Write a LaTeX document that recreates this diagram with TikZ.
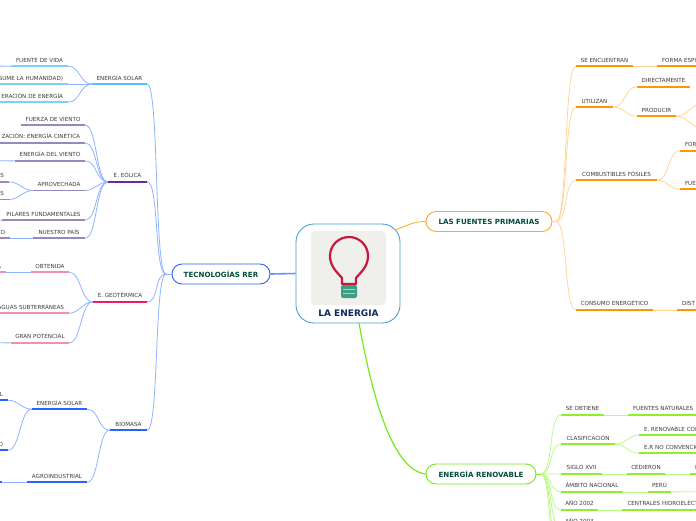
\documentclass[tikz,border=0pt]{standalone}
\usepackage{fontspec}
\setmainfont{DejaVu Sans}
\usetikzlibrary{positioning, calc}
\definecolor{txtgray}{HTML}{3C3C3C}
\definecolor{txtgreen}{HTML}{004D40}
\definecolor{txtnavy}{HTML}{0D2B5C}
\definecolor{rootline}{HTML}{4A9FD8}
\definecolor{imgback}{HTML}{EFEFEB}
\definecolor{bulbred}{HTML}{C8193C}
\definecolor{bulbteal}{HTML}{3E9E85}
\definecolor{tecblue}{HTML}{2962FF}
\definecolor{lkblue}{HTML}{8FB3FF}
\definecolor{skybar}{HTML}{4FC3F7}
\definecolor{skykid}{HTML}{81CFF5}
\definecolor{violetbar}{HTML}{6A2C91}
\definecolor{violetkid}{HTML}{9988BB}
\definecolor{pinkbar}{HTML}{E91E63}
\definecolor{pinkkid}{HTML}{F48FB1}
\definecolor{orbar}{HTML}{FF9800}
\definecolor{orline}{HTML}{FFA726}
\definecolor{lkor}{HTML}{FFD59A}
\definecolor{grbar}{HTML}{8CF02A}
\definecolor{grline}{HTML}{76E81A}
\definecolor{lkgr}{HTML}{BDF98A}

\begin{document}
\begin{tikzpicture}[x=1pt,y=-1pt,
  root/.style={rectangle,draw=rootline,fill=white,rounded corners=18pt,line width=0.9pt,minimum width=104,minimum height=99,inner sep=0pt},
  roottitle/.style={font=\fontsize{9}{10}\selectfont\bfseries,text=txtnavy,inner sep=0pt},
  mainbox/.style={rectangle,draw=#1,fill=white,rounded corners=10pt,line width=0.9pt,minimum height=20,inner sep=0pt,font=\fontsize{7.1}{8}\selectfont\bfseries,text=txtgreen},
  sub/.style={font=\fontsize{5.6}{6}\selectfont,text=txtgray,inner sep=0pt,minimum height=12,text height=4,text depth=0},
  ul/.style={sub,append after command={(\tikzlastnode.south west) edge[draw=#1,line width=1.7pt] (\tikzlastnode.south east)}},
  cutl/.style={align=right,text width=#1,inner xsep=5pt},
  cutr/.style={align=left,text width=#1,inner xsep=5pt},
  lkb/.style={draw=lkblue,line width=0.8pt},
  lko/.style={draw=lkor,line width=0.8pt},
  lkg/.style={draw=lkgr,line width=0.8pt},
  cvl/.style={out=180,in=0,max distance=12pt},
  cvr/.style={out=0,in=180,max distance=12pt}
]
  \clip (0,0) rectangle (696,520);

  \node[root](ctr) at (348,273.5) {};
  \fill[imgback,rounded corners=4pt] (311,231) rectangle (386,305);
  \draw[bulbred,line width=2.2pt,line join=round] (342,284) -- (342,278) .. controls (338,273) and (330,267) .. (330,256) .. controls (330,245) and (339,237) .. (349,237) .. controls (359,237) and (368,245) .. (368,256) .. controls (368,267) and (360,273) .. (356,278) -- (356,284) -- cycle;
  \fill[bulbteal,rounded corners=2pt] (341,285) rectangle (357,298);
  \draw[white!55!bulbteal,line width=0.7pt] (343,289.5) -- (355,289.5) (343,293) -- (355,293);
  \node[roottitle](title) at (348.5,313) {LA ENERGIA};

  \node[mainbox=tecblue,minimum width=98](tec) at (221,274) {TECNOLOGÍAS RER};
  \node[mainbox=orline,minimum width=126](fuentes) at (489,221.5) {LAS FUENTES PRIMARIAS};
  \node[mainbox=grline,minimum width=110](renov) at (481,474) {ENERGÍA RENOVABLE};

  \coordinate (ctrO) at (395,230);
  \coordinate (ctrG) at (359,323);
  \coordinate (tecJ) at (166,274);
  \coordinate (fueJ) at (556,221.5);
  \coordinate (renJ) at (541,474);

  \node[ul=skybar,minimum width=55](esolar) at (119.5,78) {ENERGÍA SOLAR};
  \node[ul=skykid,minimum width=57](fvida) at (39.5,60) {FUENTE DE VIDA};
  \node[ul=skykid,cutl=78](human) at (24,78) {SUME LA HUMANIDAD)};
  \node[ul=skykid,cutl=78](gener) at (24,96) {ERACIÓN DE ENERGÍA};

  \node[ul=violetbar,minimum width=39](eolica) at (127.5,175.7) {E. EÓLICA};
  \node[ul=violetkid,minimum width=64](fviento) at (53,119) {FUERZA DE VIENTO};
  \node[ul=violetkid,cutl=95](cinet) at (32.5,136.7) {ZACIÓN: ENERGÍA CINÉTICA};
  \node[ul=violetkid,minimum width=70](eviento) at (50,154.7) {ENERGÍA DEL VIENTO};
  \node[ul=violetkid,minimum width=52](aprov) at (59,184.3) {APROVECHADA};
  \node[ul=violetkid,cutl=19](asa) at (-5.5,175.7) {AS};
  \node[ul=violetkid,cutl=19](asb) at (-5.5,193.3) {AS};
  \node[ul=violetkid,minimum width=83](pilar) at (43.5,214) {PILARES FUNDAMENTALES};
  \node[ul=violetkid,minimum width=52](npais) at (59,232) {NUESTRO PAÍS};
  \node[ul=violetkid,cutl=20](co) at (-5,232) {CO};

  \node[ul=pinkbar,minimum width=54](geot) at (120,295.7) {E. GEOTÉRMICA};
  \node[ul=pinkkid,minimum width=38](obten) at (50,266) {OBTENIDA};
  \node[ul=pinkkid,cutl=16](oba) at (-7,266) {A};
  \node[ul=pinkkid,cutl=79](aguas) at (24.5,307) {AGUAS SUBTERRÁNEAS};
  \node[ul=pinkkid,minimum width=58](gran) at (40,336.7) {GRAN POTENCIAL};

  \node[ul=tecblue,minimum width=37](biom) at (128.5,424) {BIOMASA};
  \node[ul=tecblue,minimum width=55](esol2) at (59.5,403) {ENERGÍA SOLAR};
  \node[ul=tecblue,cutl=18](ll) at (-6,394) {L};
  \node[ul=tecblue,cutl=18](oo) at (-6,444) {O};
  \node[ul=tecblue,minimum width=60](agro) at (57,476) {AGROINDUSTRIAL};
  \node[ul=tecblue,minimum width=22](agrb) at (-9,476) {};

  \coordinate (fvidaL) at (-10,66);
  \coordinate (evienL) at (-10,160.7);
  \coordinate (pilarL) at (-10,220);
  \coordinate (granL) at (-10,342.7);

  \draw[lkb,draw=tecblue!70,line width=1.6pt](tec.east)--(ctr.west);
  \draw[lko,draw=orline](fuentes.west) to[out=180,in=20] (ctrO);
  \draw[grline,line width=1.2pt](ctrG) .. controls (372,395) and (392,470) .. (renov.west);

  \draw[lkb](tec.west)--(tecJ);
  \draw[lkb](tecJ) to[cvl] (esolar.south east);
  \draw[lkb](tecJ) to[cvl] (eolica.south east);
  \draw[lkb](tecJ) to[cvl] (geot.south east);
  \draw[lkb](tecJ) to[cvl] (biom.south east);

  \draw[lkb](esolar.south west) to[cvl] (fvida.south east);
  \draw[lkb](esolar.south west) -- (human.south east);
  \draw[lkb](esolar.south west) to[cvl] (gener.south east);
  \draw[lkb](fvida.south west) -- (fvidaL);

  \draw[lkb](eolica.south west) to[cvl] (fviento.south east);
  \draw[lkb](eolica.south west) to[cvl] (cinet.south east);
  \draw[lkb](eolica.south west) to[cvl] (eviento.south east);
  \draw[lkb](eolica.south west) to[cvl] (aprov.south east);
  \draw[lkb](eolica.south west) to[cvl] (pilar.south east);
  \draw[lkb](eolica.south west) to[cvl] (npais.south east);
  \draw[lkb](eviento.south west) -- (evienL);
  \draw[lkb](aprov.south west) to[cvl] (asa.south east);
  \draw[lkb](aprov.south west) to[cvl] (asb.south east);
  \draw[lkb](pilar.south west) -- (pilarL);
  \draw[lkb](npais.south west) -- (co.south east);

  \draw[lkb](geot.south west) to[cvl] (obten.south east);
  \draw[lkb](geot.south west) to[cvl] (aguas.south east);
  \draw[lkb](geot.south west) to[cvl] (gran.south east);
  \draw[lkb](obten.south west) -- (oba.south east);
  \draw[lkb](gran.south west) -- (granL);

  \draw[lkb](biom.south west) to[cvl] (esol2.south east);
  \draw[lkb](biom.south west) to[cvl] (agro.south east);
  \draw[lkb](esol2.south west) to[cvl] (ll.south east);
  \draw[lkb](esol2.south west) to[cvl] (oo.south east);
  \draw[lkb](agro.south west) -- (agrb.south east);

  \node[ul=orbar,minimum width=57](encuen) at (604.5,60) {SE ENCUENTRAN};
  \node[ul=orbar,cutr=49](forma) at (686.5,60) {FORMA ESPO};
  \node[ul=orbar,minimum width=37](utiliz) at (594.5,101) {UTILIZAN};
  \node[ul=orbar,minimum width=53](direct) at (663.5,80.7) {DIRECTAMENTE};
  \node[ul=orbar,minimum width=39](produc) at (656.5,110) {PRODUCIR};
  \node[ul=orbar,minimum width=81](combus) at (616.5,174) {COMBUSTIBLES FÓSILES};
  \node[ul=orbar,cutr=26](fora) at (698,144.7) {FOR};
  \node[ul=orbar,cutr=26](fueb) at (698,183) {FUE};
  \node[ul=orbar,minimum width=77](consum) at (614.5,303.7) {CONSUMO ENERGÉTICO};
  \node[ul=orbar,cutr=29](dist) at (696.5,303.7) {DIST};

  \coordinate (prodA) at (704,103);
  \coordinate (prodB) at (704,129);

  \draw[lko](fuentes.east)--(fueJ);
  \draw[lko](fueJ) to[cvr] (encuen.south west);
  \draw[lko](fueJ) to[cvr] (utiliz.south west);
  \draw[lko](fueJ) to[cvr] (combus.south west);
  \draw[lko](fueJ) to[cvr] (consum.south west);
  \draw[lko](encuen.south east) -- (forma.south west);
  \draw[lko](utiliz.south east) to[cvr] (direct.south west);
  \draw[lko](utiliz.south east) to[cvr] (produc.south west);
  \draw[lko](produc.south east) to[cvr] (prodA);
  \draw[lko](produc.south east) to[cvr] (prodB);
  \draw[lko](combus.south east) to[cvr] (fora.south west);
  \draw[lko](combus.south east) to[cvr] (fueb.south west);
  \draw[lko](consum.south east) -- (dist.south west);

  \node[ul=grbar,minimum width=43](obtie) at (582.5,408.7) {SE OBTIENE};
  \node[ul=grbar,cutr=78](natur) at (672,408.7) {FUENTES NATURALES};
  \node[ul=grbar,minimum width=54](clasif) at (588,438) {CLASIFICACIÓN};
  \node[ul=grbar,cutr=67](ercon) at (677.5,429) {E. RENOVABLE CON};
  \node[ul=grbar,cutr=67](erno) at (677.5,447) {E.R NO CONVENCIO};
  \node[ul=grbar,minimum width=41](siglo) at (581.5,467.7) {SIGLO XVII};
  \node[ul=grbar,minimum width=38](cedie) at (646,467.7) {CEDIERON};
  \node[ul=grbar,cutr=18](pp) at (704,467.7) {P};
  \node[ul=grbar,minimum width=62](ambito) at (592,485.7) {ÁMBITO NACIONAL};
  \node[ul=grbar,minimum width=23](peru) at (659.5,485.7) {PERÚ};
  \node[ul=grbar,minimum width=37](ano02) at (579.5,503.7) {AÑO 2002};
  \node[ul=grbar,cutr=83](centr) at (669,503.7) {CENTRALES HIDROELÉCT};
  \node[ul=grbar,minimum width=37](ano03) at (579.5,521.7) {AÑO 2003};

  \coordinate (peruR) at (704,491.7);
  \coordinate (moreA) at (561,560);
  \coordinate (moreB) at (561,600);

  \draw[lkg,draw=grline,line width=1pt](renov.east)--(renJ);
  \draw[lkg](renJ) to[cvr] (obtie.south west);
  \draw[lkg](renJ) to[cvr] (clasif.south west);
  \draw[lkg](renJ) to[cvr] (siglo.south west);
  \draw[lkg](renJ) to[cvr] (ambito.south west);
  \draw[lkg](renJ) to[cvr] (ano02.south west);
  \draw[lkg](renJ) to[cvr] (ano03.south west);
  \draw[lkg](renJ) to[cvr] (moreA);
  \draw[lkg](renJ) to[cvr] (moreB);
  \draw[lkg](obtie.south east) -- (natur.south west);
  \draw[lkg](clasif.south east) to[cvr] (ercon.south west);
  \draw[lkg](clasif.south east) to[cvr] (erno.south west);
  \draw[lkg](siglo.south east) -- (cedie.south west);
  \draw[lkg](cedie.south east) -- (pp.south west);
  \draw[lkg](ambito.south east) -- (peru.south west);
  \draw[lkg](peru.south east) -- (peruR);
  \draw[lkg](ano02.south east) -- (centr.south west);
\end{tikzpicture}
\end{document}
